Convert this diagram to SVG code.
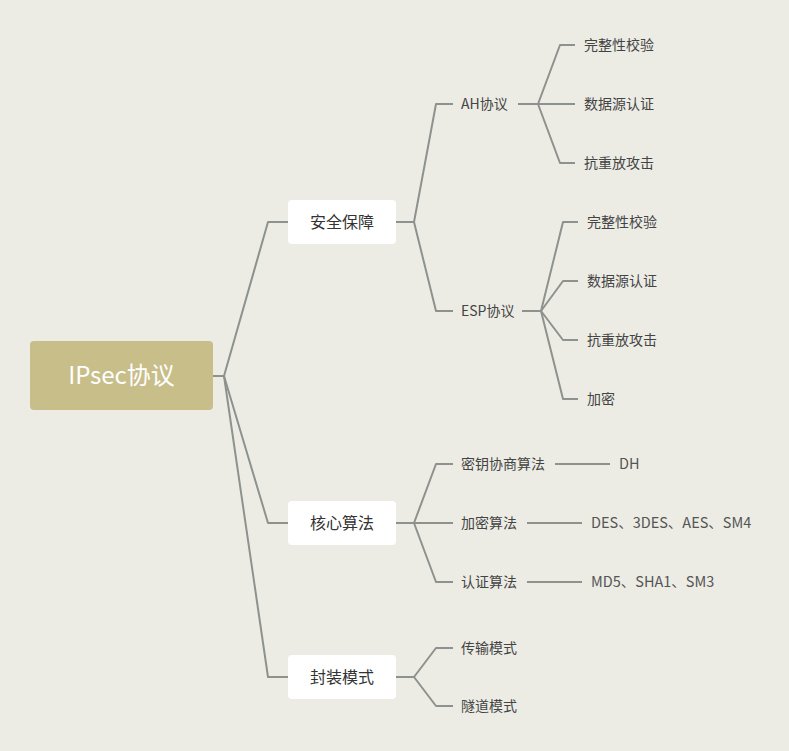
<svg xmlns="http://www.w3.org/2000/svg" width="789" height="751" viewBox="0 0 789 751">
<style>
.bg{fill:#ECECE4}
.c{fill:none;stroke:#8E928E;stroke-width:2;stroke-linejoin:round;stroke-linecap:butt}
.root{fill:#C8BE8A}
.rt{font-family:"Noto Sans CJK SC","Noto Sans",sans-serif;font-size:24px;fill:#FFFFFF}
.box{fill:#FFFFFF}
.bt{font-family:"Noto Sans CJK SC","Noto Sans",sans-serif;font-size:16px;fill:#333333}
.t{font-family:"Noto Sans CJK SC","Noto Sans",sans-serif;font-size:14px;fill:#444444}
.t3{font-family:"Noto Sans CJK SC","Noto Sans",sans-serif;font-size:14.5px;fill:#555555}
</style>
<rect class="bg" x="0" y="0" width="789" height="751"/>
<g id="connectors">
<polyline class="c" points="213,376 224,376 268,222 288,222"/>
<polyline class="c" points="224,376 268,523 288,523"/>
<polyline class="c" points="224,376 268,677 288,677"/>
<polyline class="c" points="396,222 414,222 436,104 453,104"/>
<polyline class="c" points="414,222 436,311 453,311"/>
<polyline class="c" points="518,104 538,104 560,45 575,45"/>
<polyline class="c" points="538,104 575,104"/>
<polyline class="c" points="538,104 560,163 575,163"/>
<polyline class="c" points="522,311 541,311 563,222 578,222"/>
<polyline class="c" points="541,311 563,281 578,281"/>
<polyline class="c" points="541,311 563,340 578,340"/>
<polyline class="c" points="541,311 563,399 578,399"/>
<polyline class="c" points="396,523 414,523 436,464 453,464"/>
<polyline class="c" points="414,523 453,523"/>
<polyline class="c" points="414,523 436,582 453,582"/>
<polyline class="c" points="555,464 610,464"/>
<polyline class="c" points="527,523 582,523"/>
<polyline class="c" points="527,582 582,582"/>
<polyline class="c" points="396,677 414,677 436,648 453,648"/>
<polyline class="c" points="414,677 436,706 453,706"/>
</g>
<g id="root"><rect class="root" x="30" y="341" width="183" height="69" rx="4"/><text class="rt" x="121.5" y="384" text-anchor="middle">IPsec协议</text></g>
<g id="n-anquan"><rect class="box" x="288" y="200" width="108" height="44" rx="4"/><text class="bt" x="342" y="228" text-anchor="middle">安全保障</text></g>
<g id="n-hexin"><rect class="box" x="288" y="501" width="108" height="44" rx="4"/><text class="bt" x="342" y="529" text-anchor="middle">核心算法</text></g>
<g id="n-fengzhuang"><rect class="box" x="288" y="655" width="108" height="44" rx="4"/><text class="bt" x="342" y="683" text-anchor="middle">封装模式</text></g>
<g id="n-ah"><text class="t" x="461" y="109">AH协议</text></g>
<g id="n-ah1"><text class="t" x="584" y="50">完整性校验</text></g>
<g id="n-ah2"><text class="t" x="584" y="109">数据源认证</text></g>
<g id="n-ah3"><text class="t" x="584" y="168">抗重放攻击</text></g>
<g id="n-esp"><text class="t" x="461" y="316">ESP协议</text></g>
<g id="n-esp1"><text class="t" x="587" y="227">完整性校验</text></g>
<g id="n-esp2"><text class="t" x="587" y="286">数据源认证</text></g>
<g id="n-esp3"><text class="t" x="587" y="345">抗重放攻击</text></g>
<g id="n-esp4"><text class="t" x="587" y="404">加密</text></g>
<g id="n-key"><text class="t" x="461" y="469">密钥协商算法</text></g>
<g id="n-enc"><text class="t" x="461" y="528">加密算法</text></g>
<g id="n-auth"><text class="t" x="461" y="587">认证算法</text></g>
<g id="n-dh"><text class="t3" x="619" y="469">DH</text></g>
<g id="n-des"><text class="t3" x="591" y="528">DES、3DES、AES、SM4</text></g>
<g id="n-md5"><text class="t3" x="591" y="587">MD5、SHA1、SM3</text></g>
<g id="n-trans"><text class="t" x="461" y="653">传输模式</text></g>
<g id="n-tunnel"><text class="t" x="461" y="711">隧道模式</text></g>
</svg>
